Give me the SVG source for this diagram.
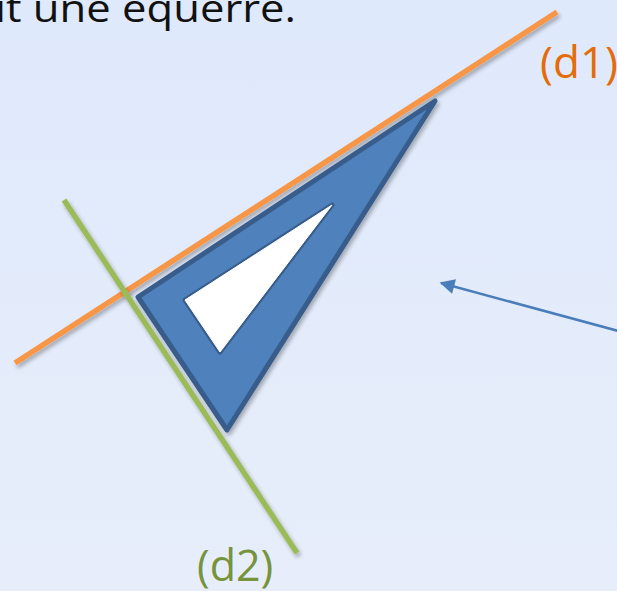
<svg xmlns="http://www.w3.org/2000/svg" width="617" height="591" viewBox="0 0 617 591">
<defs>
<linearGradient id="bg" x1="0" y1="0" x2="0" y2="1">
<stop offset="0" stop-color="#dfe9fc"/>
<stop offset="1" stop-color="#e7eefa"/>
</linearGradient>
<filter id="sh" x="-20%" y="-20%" width="140%" height="140%">
<feGaussianBlur in="SourceAlpha" stdDeviation="2"/>
<feOffset dx="1.5" dy="2.5" result="b"/>
<feComponentTransfer><feFuncA type="linear" slope="0.3"/></feComponentTransfer>
<feMerge><feMergeNode/><feMergeNode in="SourceGraphic"/></feMerge>
</filter>
<marker id="ah" viewBox="0 0 10 10" refX="9" refY="5" markerWidth="6.5" markerHeight="6" orient="auto-start-reverse">
<path d="M0,0 L10,5 L0,10 z" fill="#4a7ebb"/>
</marker>
</defs>
<style>
.lbl{font-family:"Open Sans","Noto Sans",sans-serif;}
</style>
<rect width="617" height="591" fill="url(#bg)"/>
<text class="lbl" x="-5" y="22" font-size="39" fill="#111" textLength="301" lengthAdjust="spacingAndGlyphs">it une équerre.</text>
<g id="d1">
<line x1="15" y1="363" x2="557" y2="12" stroke="#f79646" stroke-width="5.5" filter="url(#sh)"/>
<text class="lbl" x="540" y="78" font-size="44" fill="#e46c0a">(d1)</text>
</g>
<g id="equerre">
<path d="M138,297 L435,101 L227,430 Z M185,300 L332,205 L220,352 Z" fill="#4f81bd" fill-rule="evenodd" stroke="#385d8a" stroke-width="5" stroke-linejoin="round" filter="url(#sh)"/>
<path d="M185,300 L332,205 L220,352 Z" fill="#ffffff" stroke="#ffffff" stroke-width="1" stroke-linejoin="round"/>
</g>
<g id="d2">
<line x1="64" y1="200" x2="297" y2="553" stroke="#9bbb59" stroke-width="5.5" filter="url(#sh)"/>
<text class="lbl" x="197" y="581" font-size="43" fill="#77933c">(d2)</text>
</g>
<g id="connectors">
<line x1="622" y1="332" x2="441" y2="283" stroke="#4a7ebb" stroke-width="2.5" marker-end="url(#ah)"/>
</g>
</svg>
